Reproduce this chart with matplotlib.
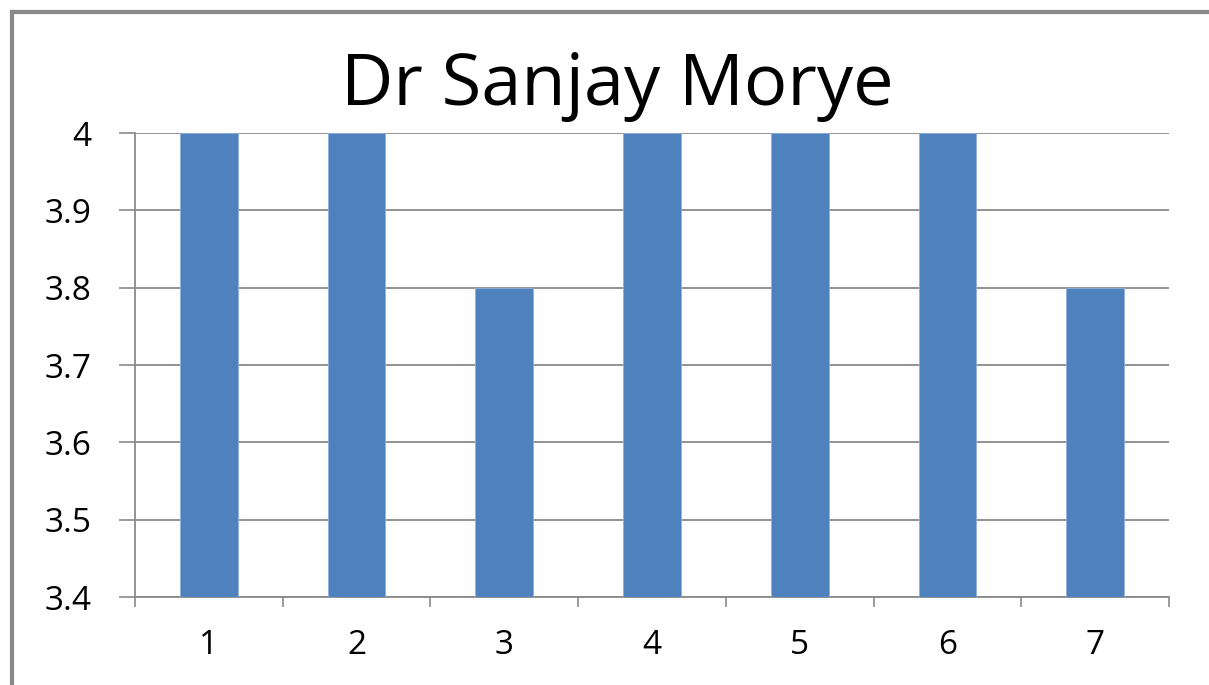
import matplotlib
matplotlib.use("Agg")
import matplotlib.pyplot as plt
from matplotlib.lines import Line2D
import numpy as np

categories = ["1", "2", "3", "4", "5", "6", "7"]
values = [4, 4, 3.8, 4, 4, 4, 3.8]
yticks = [3.4, 3.5, 3.6, 3.7, 3.8, 3.9, 4.0]
ytick_labels = ["3.4", "3.5", "3.6", "3.7", "3.8", "3.9", "4"]
title = "Dr Sanjay Morye"

W, H = 1209, 685
fig = plt.figure(figsize=(W / 100, H / 100), dpi=100)
fig.patch.set_facecolor("white")

font = ["Open Sans", "DejaVu Sans"]
grey = "#8a8a8a"

ax = fig.add_axes([135 / W, 1 - 597 / H, (1169 - 135) / W, (597 - 133) / H])
x = np.arange(1, len(categories) + 1)
ax.bar(x, values, width=0.39, color="#4F81BD", edgecolor="#8fb0db", linewidth=0.6, zorder=3)

ax.set_xlim(0.5, len(categories) + 0.5)
ax.set_ylim(3.4, 4.0)
ax.set_yticks(yticks)
ax.set_yticklabels(ytick_labels, fontfamily=font, fontsize=24)
ax.yaxis.grid(True, color=grey, linewidth=1.3, zorder=0)
ax.tick_params(axis="y", length=11.5, width=1.2, color=grey, pad=20)

ax.set_xticks(x)
ax.set_xticklabels(categories, fontfamily=font, fontsize=24)
ax.tick_params(axis="x", which="major", length=0, pad=23)
ax.set_xticks(np.arange(0.5, len(categories) + 1, 1.0), minor=True)
ax.tick_params(axis="x", which="minor", length=7.5, width=1.2, color=grey)

for s in ["top", "right"]:
    ax.spines[s].set_visible(False)
for s in ["left", "bottom"]:
    ax.spines[s].set_color(grey)
    ax.spines[s].set_linewidth(1.3)

fig.text(617 / W, 1 - 86 / H, title, ha="center", va="center", fontfamily=font, fontsize=52)

# outer chart border (left and top edges visible)
fig.add_artist(Line2D([12 / W, 12 / W], [0, 1 - 12 / H], transform=fig.transFigure, color=grey, linewidth=3))
fig.add_artist(Line2D([12 / W, 1], [1 - 12 / H, 1 - 12 / H], transform=fig.transFigure, color=grey, linewidth=3))

fig.savefig("out.png", dpi=100, facecolor="white")
